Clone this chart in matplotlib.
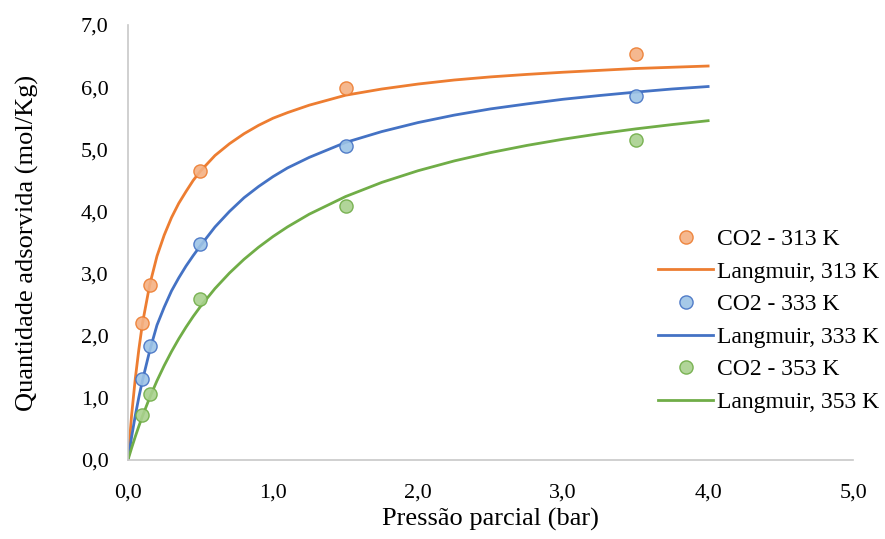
import matplotlib
matplotlib.use("Agg")
import matplotlib.pyplot as plt

# experimental points (bar, mol/Kg)
p_exp = [0.1, 0.15, 0.5, 1.5, 3.5]
q313 = [2.20, 2.82, 4.65, 5.98, 6.53]
q333 = [1.30, 1.83, 3.48, 5.06, 5.86]
q353 = [0.73, 1.06, 2.59, 4.08, 5.15]

# Langmuir curves
p_fit = [0, 0.025, 0.05, 0.075, 0.1, 0.15, 0.2, 0.25, 0.3, 0.35, 0.4, 0.45, 0.5,
         0.6, 0.7, 0.8, 0.9, 1.0, 1.1, 1.25, 1.5, 1.75, 2.0, 2.25, 2.5, 2.75,
         3.0, 3.25, 3.5, 3.75, 4.0]
fit313 = [0, 0.72, 1.30, 1.78, 2.20, 2.82, 3.28, 3.62, 3.90, 4.13, 4.32, 4.50, 4.65,
          4.90, 5.09, 5.25, 5.385, 5.50, 5.59, 5.71, 5.87, 5.97, 6.05, 6.115, 6.165, 6.205,
          6.24, 6.27, 6.30, 6.32, 6.34]
fit333 = [0, 0.37, 0.71, 1.01, 1.28, 1.76, 2.17, 2.46, 2.72, 2.93, 3.12, 3.29, 3.45,
          3.75, 4.00, 4.22, 4.40, 4.56, 4.70, 4.87, 5.11, 5.285, 5.43, 5.55, 5.65, 5.73,
          5.805, 5.865, 5.92, 5.97, 6.01]
fit353 = [0, 0.192, 0.373, 0.544, 0.706, 1.005, 1.275, 1.520, 1.744, 1.949, 2.137, 2.311, 2.471,
          2.759, 3.009, 3.229, 3.423, 3.596, 3.751, 3.956, 4.239, 4.467, 4.655, 4.813, 4.947, 5.062,
          5.162, 5.250, 5.328, 5.397, 5.46]

x_ticks = [0, 1, 2, 3, 4, 5]
y_ticks = [0, 1, 2, 3, 4, 5, 6, 7]

plt.rcParams['font.family'] = ['Liberation Serif', 'DejaVu Serif']

fig = plt.figure(figsize=(8.85, 5.39), dpi=100)
ax = fig.add_axes([0.1446, 0.1466, 0.8194, 0.807])

series = [
    ("313 K", q313, fit313, "#F4B183", "#ED7D31"),
    ("333 K", q333, fit333, "#9DC3E6", "#4472C4"),
    ("353 K", q353, fit353, "#A9D18E", "#70AD47"),
]
handles = []
for name, q, fit, face, edge in series:
    pts, = ax.plot(p_exp, q, linestyle="none", marker="o", markersize=9.5,
                   markerfacecolor=face, markeredgecolor=edge, markeredgewidth=1.0,
                   alpha=0.9, zorder=3, label="CO2 - " + name)
    ln, = ax.plot(p_fit, fit, color=edge, linewidth=2.0, zorder=2,
                  label="Langmuir, " + name)
    handles += [pts, ln]

ax.set_xlim(0, 5)
ax.set_ylim(0, 7)
ax.set_xticks(x_ticks)
ax.set_yticks(y_ticks)
ax.set_xticklabels([("%.1f" % v).replace(".", ",") for v in x_ticks])
ax.set_yticklabels([("%.1f" % v).replace(".", ",") for v in y_ticks])
ax.tick_params(axis="both", length=0, labelsize=16)
ax.tick_params(axis="x", pad=17)
ax.tick_params(axis="y", pad=14)

for side in ["top", "right"]:
    ax.spines[side].set_visible(False)
for side in ["bottom", "left"]:
    ax.spines[side].set_color("#C8C8C8")
    ax.spines[side].set_linewidth(1.2)

ax.set_xlabel("Pressão parcial (bar)", fontsize=19, labelpad=3.5)
ax.set_ylabel("Quantidade adsorvida (mol/Kg)", fontsize=19, labelpad=30)

fig.legend(handles=handles, loc="center left", bbox_to_anchor=(0.7435, 0.405),
           frameon=False, fontsize=17, handlelength=2.33, handletextpad=0.17,
           labelspacing=0.47, borderpad=0, borderaxespad=0)

fig.savefig("out.png", dpi=100)
